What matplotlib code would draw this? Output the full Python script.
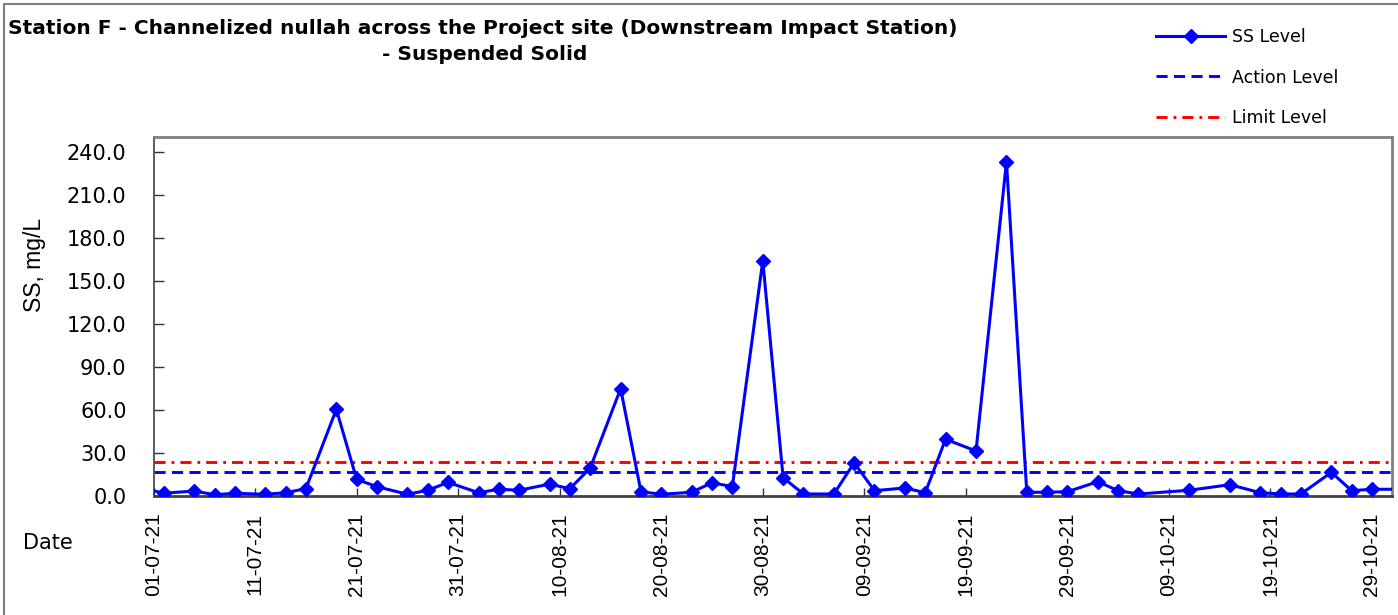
import matplotlib
matplotlib.use("Agg")
import matplotlib.pyplot as plt
import matplotlib.dates as mdates
from matplotlib.patches import Rectangle
import datetime as dt

# ---------------- data ----------------
dates = ["2021-06-30", "2021-07-02", "2021-07-05", "2021-07-07", "2021-07-09", "2021-07-12",
         "2021-07-14", "2021-07-16", "2021-07-19", "2021-07-21", "2021-07-23", "2021-07-26",
         "2021-07-28", "2021-07-30", "2021-08-02", "2021-08-04", "2021-08-06", "2021-08-09",
         "2021-08-11", "2021-08-13", "2021-08-16", "2021-08-18", "2021-08-20", "2021-08-23",
         "2021-08-25", "2021-08-27", "2021-08-30", "2021-09-01", "2021-09-03", "2021-09-06",
         "2021-09-08", "2021-09-10", "2021-09-13", "2021-09-15", "2021-09-17", "2021-09-20",
         "2021-09-23", "2021-09-25", "2021-09-27", "2021-09-29", "2021-10-02", "2021-10-04",
         "2021-10-06", "2021-10-11", "2021-10-15", "2021-10-18", "2021-10-20", "2021-10-22",
         "2021-10-25", "2021-10-27", "2021-10-29", "2021-11-01"]
ss_level = [5.5, 1.9, 3.5, 0.9, 1.9, 1.2,
            2.3, 5.1, 60.5, 11.6, 6.5, 1.2,
            4.0, 9.5, 2.3, 4.7, 4.0, 8.3,
            5.1, 19.5, 74.9, 3.0, 1.2, 2.6,
            9.3, 6.5, 164.2, 12.8, 1.4, 1.4,
            23.2, 3.7, 5.6, 2.3, 39.6, 31.4,
            233.3, 2.6, 2.6, 3.0, 10.0, 3.7,
            1.4, 4.0, 7.9, 2.3, 1.4, 1.4,
            16.5, 3.7, 4.7, 4.7]
action_level = 16.7
limit_level = 23.5
y_ticks = [0, 30, 60, 90, 120, 150, 180, 210, 240]
x_start = "2021-07-01"
x_end = "2021-10-31"

title_line1 = "Station F - Channelized nullah across the Project site (Downstream Impact Station)"
title_line2 = "- Suspended Solid"

# ---------------- figure ----------------
W, H = 1398, 615
plt.rcParams['lines.scale_dashes'] = False
fig = plt.figure(figsize=(W / 100, H / 100), dpi=100)

def fx(px):
    return px / W

def fy(py):
    return 1 - py / H

# outer frame
fig.patches.append(Rectangle((fx(4), fy(640)), fx(1420) - fx(4), fy(4) - fy(640),
                             transform=fig.transFigure, fill=False,
                             edgecolor='#7f7f7f', linewidth=1.5))

ax = fig.add_axes([fx(153.6), fy(496), fx(1392.3) - fx(153.6), fy(136.7) - fy(496)])

d = [dt.datetime.strptime(s, "%Y-%m-%d") for s in dates]
x0 = dt.datetime.strptime(x_start, "%Y-%m-%d")
x1 = dt.datetime.strptime(x_end, "%Y-%m-%d")

ax.axhline(action_level, color='#0000ff', linewidth=2.1, linestyle=(0, (8.0, 4.6)),
           label='Action Level', zorder=2)
ax.axhline(limit_level, color='#ff0000', linewidth=2.1, linestyle=(0, (8.0, 4.3, 2.0, 4.3)),
           label='Limit Level', zorder=2)
ax.plot(d, ss_level, color='#0000ff', linewidth=2.2, marker='D', markersize=7.0,
        markeredgecolor='#0000ff', markerfacecolor='#0000ff', label='SS Level',
        zorder=3)

ax.set_xlim(x0, x1)
ax.set_ylim(0, 250.7)
ax.set_yticks(y_ticks)
ax.yaxis.set_major_formatter(matplotlib.ticker.FormatStrFormatter('%.1f'))
ticks = [x0 + dt.timedelta(days=10 * i) for i in range(13)]
ax.set_xticks(ticks)
ax.xaxis.set_major_formatter(mdates.DateFormatter('%d-%m-%y'))

ax.tick_params(axis='y', direction='in', length=7, width=1, color='#333333',
               pad=19.5, labelsize=15)
ax.tick_params(axis='x', direction='in', length=6, width=1, color='#333333',
               pad=12, labelsize=15, labelrotation=90)
for lab in ax.get_yticklabels():
    lab.set_fontfamily('DejaVu Sans')
for lab in ax.get_xticklabels():
    lab.set_fontfamily('Liberation Sans')

for s in ['top', 'right']:
    ax.spines[s].set_color('#808080')
    ax.spines[s].set_linewidth(2)
ax.spines['left'].set_color('#404040')
ax.spines['left'].set_linewidth(1.2)
ax.spines['bottom'].set_color('#404040')
ax.spines['bottom'].set_linewidth(2)

# titles / labels
fig.text(fx(483), fy(28), title_line1, ha='center', va='center', fontsize=14.5,
         fontweight='bold', family='DejaVu Sans')
fig.text(fx(485), fy(54), title_line2, ha='center', va='center', fontsize=14.5,
         fontweight='bold', family='DejaVu Sans')
fig.text(fx(35), fy(265), "SS, mg/L", rotation=90, ha='center', va='center',
         fontsize=16.5, family='Liberation Sans')
fig.text(fx(48), fy(543), "Date", ha='center', va='center', fontsize=15,
         family='DejaVu Sans')

# legend
h, l = ax.get_legend_handles_labels()
order = [2, 0, 1]
leg = fig.legend([h[i] for i in order], [l[i] for i in order],
                 loc='upper left', bbox_to_anchor=(fx(1156), fy(28)),
                 frameon=False, fontsize=12.5, handlelength=4.0, handletextpad=0.4,
                 labelspacing=1.3, borderaxespad=0, borderpad=0)
for t in leg.get_texts():
    t.set_fontfamily('DejaVu Sans')

fig.savefig("out.png", dpi=100)
